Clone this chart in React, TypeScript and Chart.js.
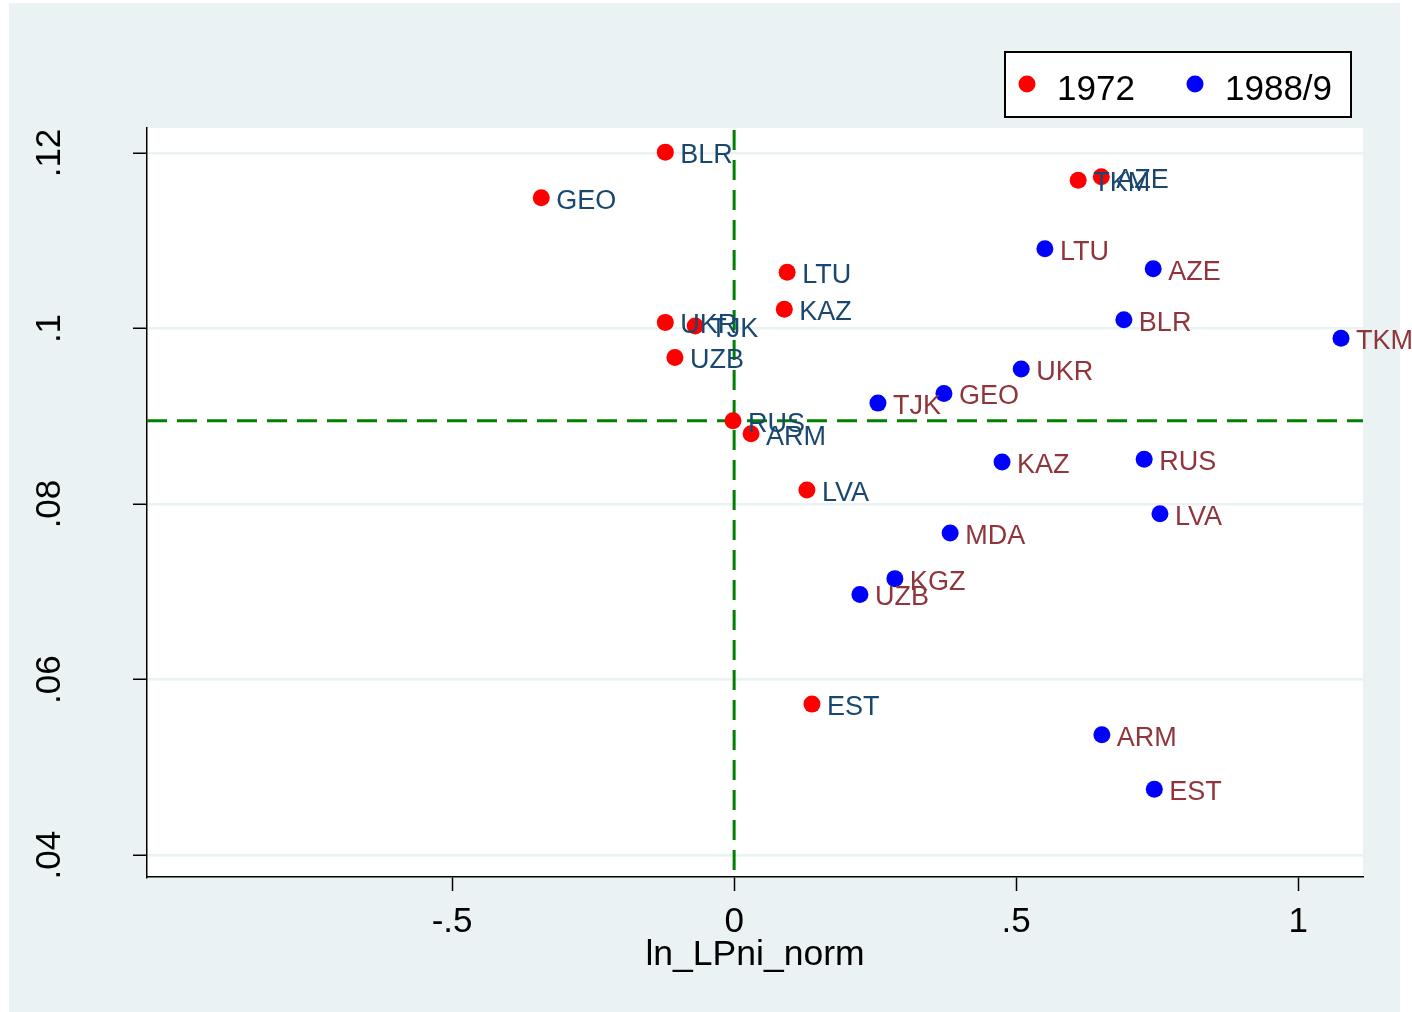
import React, { useEffect, useRef } from "react";
import { Chart, registerables } from "chart.js";

Chart.register(...registerables);

// 1972 series
const codes1972 = ["BLR", "GEO", "TKM", "AZE", "LTU", "KAZ", "UKR", "TJK", "UZB", "RUS", "ARM", "LVA", "EST"];
const x1972 = [-0.122, -0.342, 0.610, 0.651, 0.094, 0.089, -0.122, -0.069, -0.105, -0.002, 0.030, 0.129, 0.138];
const y1972 = [0.1201, 0.1149, 0.1169, 0.1173, 0.1064, 0.1022, 0.1007, 0.1003, 0.0967, 0.0895, 0.0880, 0.0816, 0.0572];

// 1988/9 series
const codes1988 = ["LTU", "AZE", "BLR", "TKM", "UKR", "GEO", "TJK", "KAZ", "RUS", "LVA", "MDA", "KGZ", "UZB", "ARM", "EST"];
const x1988 = [0.551, 0.743, 0.691, 1.076, 0.509, 0.372, 0.255, 0.475, 0.727, 0.755, 0.383, 0.285, 0.223, 0.652, 0.745];
const y1988 = [0.1091, 0.1068, 0.1010, 0.0989, 0.0954, 0.0926, 0.0915, 0.0848, 0.0851, 0.0789, 0.0767, 0.0715, 0.0697, 0.0537, 0.0475];

const seriesNames = ["1972", "1988/9"];
const xTicks = [-0.5, 0, 0.5, 1];
const xTickLabels = ["-.5", "0", ".5", "1"];
const yTicks = [0.04, 0.06, 0.08, 0.1, 0.12];
const yTickLabels = [".04", ".06", ".08", ".1", ".12"];
const refX = 0;
const refY = 0.0895;
const xTitle = "ln_LPni_norm";

const FONT = "'Liberation Sans', Arial, Helvetica, sans-serif";
const BG = "#eaf2f3";
const NAVY = "#1a476f";
const MAROON = "#90353b";

export default function App() {
  const ref = useRef<HTMLCanvasElement | null>(null);

  useEffect(() => {
    const canvas = ref.current;
    if (!canvas) return;

    const labelColors = [NAVY, MAROON];
    const labelSets = [codes1972, codes1988];

    const decor = {
      id: "decor",
      beforeDraw(chart: any) {
        const ctx = chart.ctx;
        const a = chart.chartArea;
        ctx.save();
        ctx.fillStyle = "#ffffff";
        ctx.fillRect(0, 0, chart.width, chart.height);
        ctx.fillStyle = BG;
        ctx.fillRect(9, 3, 1391, 1009);
        ctx.fillStyle = "#ffffff";
        ctx.fillRect(a.left, a.top, a.right - a.left, a.bottom - a.top);
        ctx.restore();
      },
      beforeDatasetsDraw(chart: any) {
        const ctx = chart.ctx;
        const a = chart.chartArea;
        const xs = chart.scales.x;
        const ys = chart.scales.y;
        ctx.save();
        ctx.strokeStyle = "#008000";
        ctx.lineWidth = 3;
        ctx.setLineDash([20, 10]);
        const px = xs.getPixelForValue(refX);
        ctx.beginPath();
        ctx.moveTo(px, a.top + 2);
        ctx.lineTo(px, a.bottom);
        ctx.stroke();
        const py = ys.getPixelForValue(refY);
        ctx.beginPath();
        ctx.moveTo(a.left, py);
        ctx.lineTo(a.right, py);
        ctx.stroke();
        ctx.restore();
      },
      afterDatasetsDraw(chart: any) {
        const ctx = chart.ctx;
        ctx.save();
        ctx.font = `27px ${FONT}`;
        ctx.textAlign = "left";
        ctx.textBaseline = "alphabetic";
        for (let d = 0; d < 2; d++) {
          const meta = chart.getDatasetMeta(d);
          ctx.fillStyle = labelColors[d];
          meta.data.forEach((el: any, i: number) => {
            ctx.fillText(labelSets[d][i], el.x + 15, el.y + 11);
          });
        }
        ctx.restore();
      },
      afterDraw(chart: any) {
        const ctx = chart.ctx;
        const a = chart.chartArea;
        const xs = chart.scales.x;
        const ys = chart.scales.y;
        ctx.save();
        ctx.fillStyle = "#000000";
        ctx.font = `35px ${FONT}`;
        ctx.textAlign = "center";
        ctx.textBaseline = "alphabetic";
        xTicks.forEach((v, i) => {
          ctx.fillText(xTickLabels[i], xs.getPixelForValue(v), 932);
        });
        yTicks.forEach((v, i) => {
          ctx.save();
          ctx.translate(60, ys.getPixelForValue(v));
          ctx.rotate(-Math.PI / 2);
          ctx.fillText(yTickLabels[i], 0, 0);
          ctx.restore();
        });
        ctx.font = `35.5px ${FONT}`;
        ctx.fillText(xTitle, (a.left + a.right) / 2, 965);

        // legend
        ctx.font = `35px ${FONT}`;
        ctx.fillStyle = "#ffffff";
        ctx.fillRect(1005, 52, 346, 65);
        ctx.strokeStyle = "#000000";
        ctx.lineWidth = 2;
        ctx.strokeRect(1005, 52, 346, 65);
        const cols = ["#ff0000", "#0000ff"];
        const dotX = [1027, 1195];
        const txtX = [1057, 1225];
        for (let k = 0; k < 2; k++) {
          ctx.fillStyle = cols[k];
          ctx.beginPath();
          ctx.arc(dotX[k], 84, 8.5, 0, Math.PI * 2);
          ctx.fill();
          ctx.fillStyle = "#000000";
          ctx.textAlign = "left";
          ctx.fillText(seriesNames[k], txtX[k], 100);
        }
        ctx.restore();
      },
    };

    const chart = new Chart(canvas, {
      type: "scatter",
      data: {
        datasets: [
          {
            label: seriesNames[0],
            data: x1972.map((x, i) => ({ x, y: y1972[i] })),
            pointRadius: 8.5,
            pointBackgroundColor: "#ff0000",
            pointBorderWidth: 0,
            borderWidth: 0,
          },
          {
            label: seriesNames[1],
            data: x1988.map((x, i) => ({ x, y: y1988[i] })),
            pointRadius: 8.5,
            pointBackgroundColor: "#0000ff",
            pointBorderWidth: 0,
            borderWidth: 0,
          },
        ],
      },
      options: {
        animation: false,
        responsive: false,
        events: [],
        layout: { padding: { left: 0, top: 128, right: 49, bottom: 0 } },
        plugins: {
          legend: { display: false },
          tooltip: { enabled: false },
        },
        scales: {
          x: {
            type: "linear",
            min: -1.041,
            max: 1.115,
            afterBuildTicks: (s: any) => {
              s.ticks = xTicks.map((v) => ({ value: v }));
            },
            afterFit: (s: any) => {
              s.height = 135;
            },
            ticks: { display: false },
            grid: {
              drawOnChartArea: false,
              drawTicks: true,
              tickLength: 14,
              tickColor: "#000000",
              tickWidth: 1.5,
            },
            border: { display: true, color: "#000000", width: 1.5 },
          },
          y: {
            type: "linear",
            min: 0.0375,
            max: 0.12285,
            afterBuildTicks: (s: any) => {
              s.ticks = yTicks.map((v) => ({ value: v }));
            },
            afterFit: (s: any) => {
              s.width = 147;
            },
            ticks: { display: false },
            grid: {
              drawOnChartArea: true,
              color: BG,
              lineWidth: 2.5,
              drawTicks: true,
              tickLength: 14,
              tickColor: "#000000",
              tickWidth: 1.5,
            },
            border: { display: true, color: "#000000", width: 1.5 },
          },
        },
      },
      plugins: [decor],
    });

    return () => chart.destroy();
  }, []);

  return (
    <div style={{ position: "fixed", left: 0, top: 0, width: 1412, height: 1012 }}>
      <canvas ref={ref} width={1412} height={1012} style={{ display: "block" }} />
    </div>
  );
}
